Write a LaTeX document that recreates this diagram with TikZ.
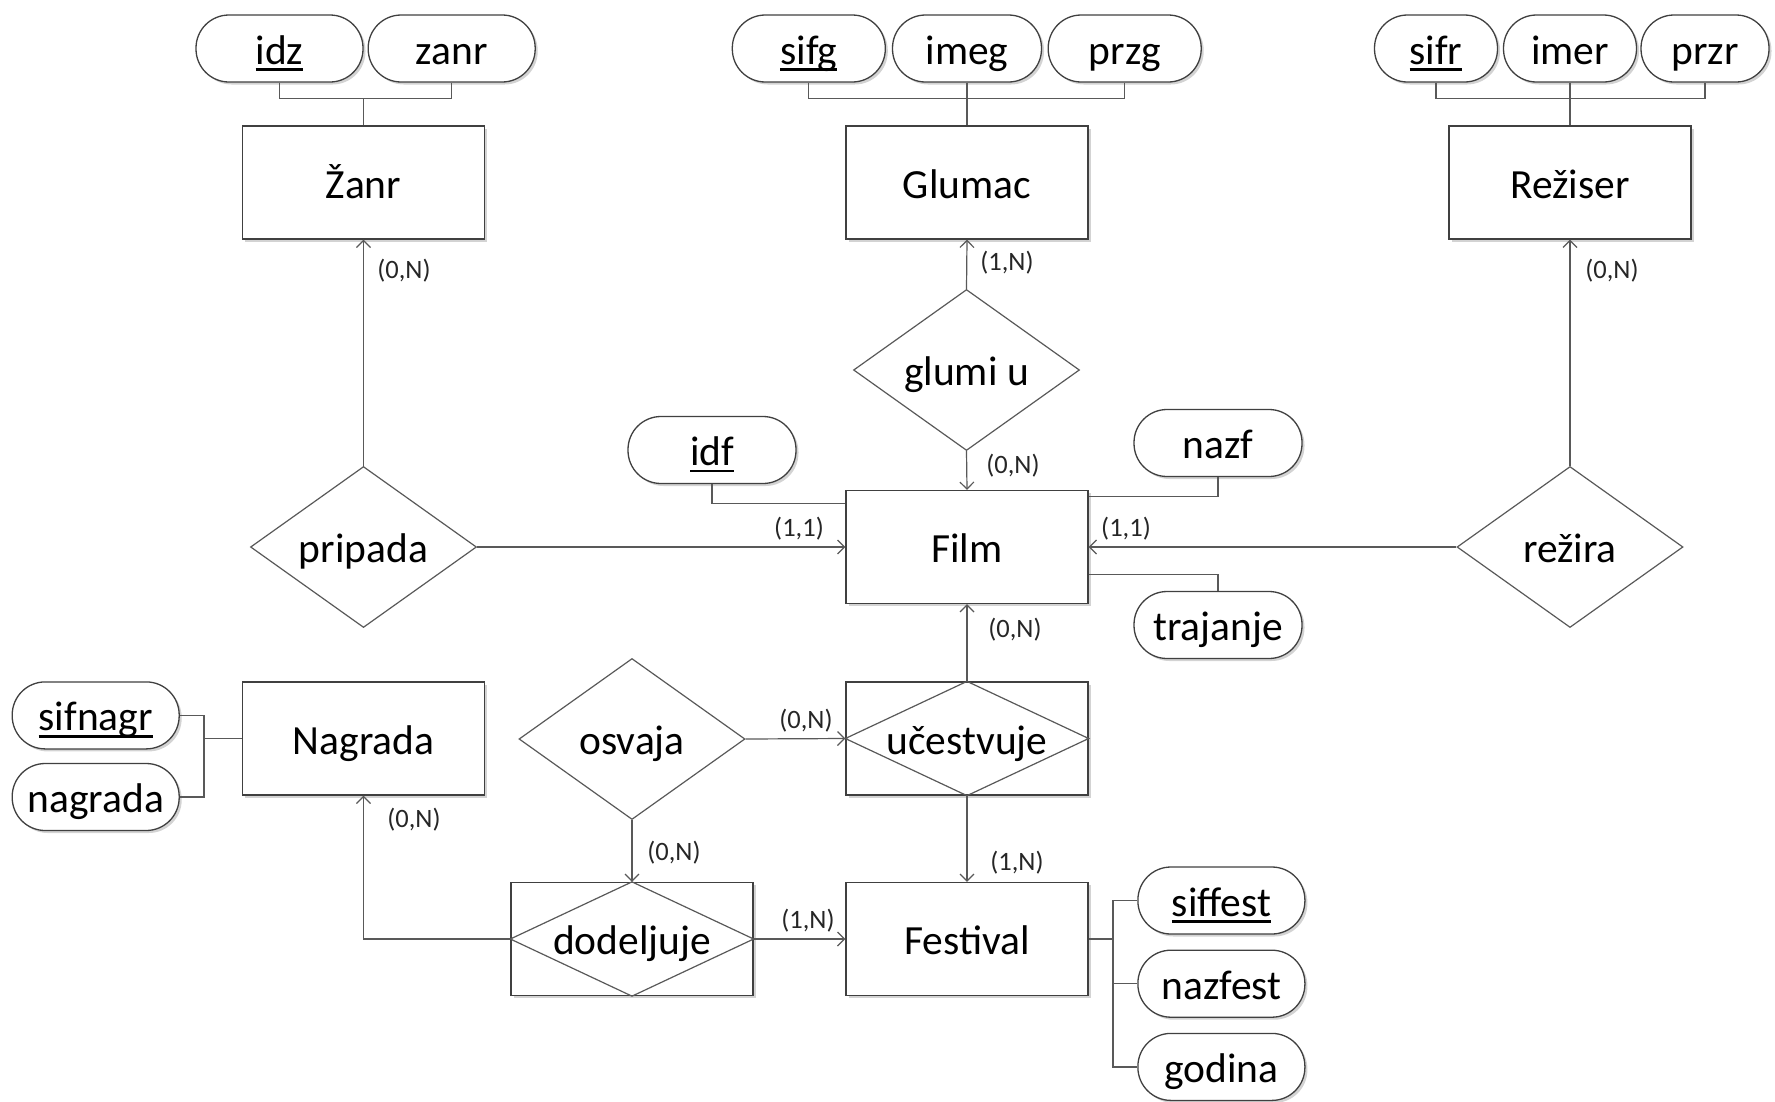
\documentclass[tikz,border=0pt]{standalone}
\usepackage{fontspec}
\setmainfont{Carlito}
\usetikzlibrary{arrows.meta,shapes.geometric,shadows}
\newcommand\keyul[1]{\setbox0\hbox{#1}\rlap{\rule[-0.16em]{\wd0}{0.06em}}\box0}
\tikzset{
  base/.style={font=\fontsize{41.5pt}{50pt}\selectfont, text height=38pt, text depth=7pt, inner sep=0pt, text=black},
  shad/.style={drop shadow={shadow xshift=2.5pt, shadow yshift=-2.5pt, fill=black!50, opacity=0.35}},
  ent/.style={base, draw=black!75, fill=white, line width=1.3pt, minimum width=242pt, minimum height=113pt, shad},
  attr/.style={base, draw=black!75, fill=white, line width=1.3pt, rounded corners=33pt, minimum height=67pt, shad},
  rel/.style={base, diamond, aspect=1.4, draw=black!65, fill=white, line width=1.2pt, minimum width=226pt, minimum height=161pt},
  card/.style={font=\fontsize{26.5pt}{30pt}\selectfont, text height=22pt, text depth=4pt, inner sep=0pt, text=black!85},
  conn/.style={draw=black!65, line width=1.2pt},
  arr/.style={conn, -{Straight Barb[length=7pt,width=14pt,line width=1.2pt]}},
}
\begin{document}
\begin{tikzpicture}[x=1pt,y=-1pt]
\useasboundingbox (0,0) rectangle (1775,1101);

% ---------- entities ----------
\node[ent] (zanrE)   at (363.5,182.5) {Žanr};
\node[ent] (glumac)  at (967,182.5) {Glumac};
\node[ent] (reziser) at (1570,182.5) {Režiser};
\node[ent] (film)    at (967,547) {Film};
\node[ent] (nagrada) at (363.5,738.5) {Nagrada};
\node[ent] (festival) at (967,939) {Festival};

% ---------- weak relationships (box + diamond) ----------
\node[ent] (uc) at (967,738.5) {};
\draw[conn] (uc.north) -- (uc.east) -- (uc.south) -- (uc.west) -- cycle;
\node[base] (uct) at (uc) {učestvuje};
\node[ent] (dod) at (632,939) {};
\draw[conn] (dod.north) -- (dod.east) -- (dod.south) -- (dod.west) -- cycle;
\node[base] (dodt) at (dod) {dodeljuje};

% ---------- relationships ----------
\node[rel] (glumi)   at (966.5,370) {\makebox[0pt]{glumi u}};
\node[rel] (pripada) at (363.5,547) {\makebox[0pt]{pripada}};
\node[rel] (rezira)  at (1570,547) {\makebox[0pt]{režira}};
\node[rel] (osvaja)  at (632,739) {\makebox[0pt]{osvaja}};

% ---------- attributes ----------
\node[attr, minimum width=167pt] (idz)   at (279.5,48.5) {\keyul{idz}};
\node[attr, minimum width=167pt] (zanrA) at (451.7,48.5) {zanr};
\node[attr, minimum width=153pt] (sifg)  at (808.8,48.5) {\keyul{sifg}};
\node[attr, minimum width=149pt] (imeg)  at (967,48.5) {imeg};
\node[attr, minimum width=153pt] (przg)  at (1124.7,48.5) {przg};
\node[attr, minimum width=123pt] (sifr)  at (1436,48.5) {\keyul{sifr}};
\node[attr, minimum width=133pt] (imer)  at (1570,48.5) {imer};
\node[attr, minimum width=128pt] (przr)  at (1705,48.5) {przr};

\node[attr, minimum width=168pt] (idf)   at (712,450) {\keyul{idf}};
\node[attr, minimum width=168pt] (nazf)  at (1218,443) {nazf};
\node[attr, minimum width=168pt] (traj)  at (1218,625) {trajanje};

\node[attr, minimum width=167pt] (sifnagr) at (95.7,715.4) {\keyul{sifnagr}};
\node[attr, minimum width=167pt] (nagradaA) at (95.7,797) {nagrada};

\node[attr, minimum width=167pt] (siffest) at (1221.4,900.5) {\keyul{siffest}};
\node[attr, minimum width=167pt] (nazfest) at (1221.4,983.7) {nazfest};
\node[attr, minimum width=167pt] (godina)  at (1221.4,1066.9) {godina};

% ---------- attribute connectors ----------
\coordinate (zj) at (363.5,98.5);
\draw[conn] (idz.south) -- (idz.south |- zj) -- (zanrA.south |- zj) -- (zanrA.south);
\draw[conn] (zanrE.north) -- (zanrE.north |- zj);

\coordinate (gj) at (967,98.5);
\draw[conn] (sifg.south) -- (sifg.south |- gj) -- (przg.south |- gj) -- (przg.south);
\draw[conn] (imeg.south) -- (glumac.north);

\coordinate (rj) at (1570,98.5);
\draw[conn] (sifr.south) -- (sifr.south |- rj) -- (przr.south |- rj) -- (przr.south);
\draw[conn] (imer.south) -- (reziser.north);

\draw[conn] (idf.south) |- ([yshift=-14pt]film.north west);
\draw[conn] (nazf.south) |- ([yshift=-7pt]film.north east);
\draw[conn] (traj.north) |- ([yshift=30pt]film.south east);

\coordinate (nj) at (204,738.5);
\draw[conn] (sifnagr.east) -| (nj) |- (nagradaA.east);
\draw[conn] (nj) -- (nagrada.west);

\coordinate (fj) at (1113,939);
\draw[conn] (festival.east) -- (fj);
\draw[conn] (siffest.west) -| (fj |- godina.west) -- (godina.west);
\draw[conn] (nazfest.west) -- (nazfest.west -| fj);

% ---------- relationship connectors ----------
\draw[arr] (pripada.north) -- (zanrE.south);
\draw[arr] (pripada.east) -- (film.west);
\draw[arr] (glumi.north) -- (glumac.south);
\draw[arr] (glumi.south) -- (film.north);
\draw[arr] (rezira.north) -- (reziser.south);
\draw[arr] (rezira.west) -- (film.east);
\draw[arr] (uc.north) -- (film.south);
\draw[arr] (uc.south) -- (festival.north);
\draw[arr] (osvaja.east) -- (uc.west);
\draw[arr] (osvaja.south) -- (dod.north);
\draw[arr] (dod.west) -| (nagrada.south);
\draw[arr] (dod.east) -- (festival.west);

% ---------- cardinalities ----------
\node[card] (c1)  at (404,269) {(0,N)};
\node[card] (c2)  at (1007,261) {(1,N)};
\node[card] (c3)  at (1612,269) {(0,N)};
\node[card] (c4)  at (1013,464) {(0,N)};
\node[card] (c5)  at (799,527) {(1,1)};
\node[card] (c6)  at (1126,527) {(1,1)};
\node[card] (c7)  at (1015,628) {(0,N)};
\node[card] (c8)  at (806,719) {(0,N)};
\node[card] (c9)  at (414,818) {(0,N)};
\node[card] (c10) at (674,851) {(0,N)};
\node[card] (c11) at (1017,861) {(1,N)};
\node[card] (c12) at (808,919) {(1,N)};
\end{tikzpicture}
\end{document}
